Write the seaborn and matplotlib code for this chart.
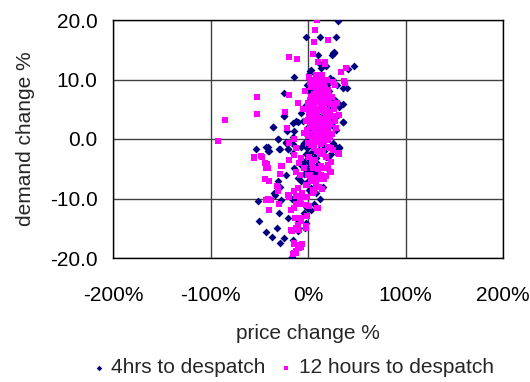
import matplotlib
matplotlib.use("Agg")
import matplotlib.pyplot as plt
from matplotlib.ticker import FuncFormatter
import seaborn as sns
import pandas as pd

# price change (%) and demand change (%) pairs, 4 hours before despatch
price_4h = [31, -2, 12.6, 28.6, 10.5, 24.5, 26.2, 25.2, 26.8,
            3.1, -14, 22.8, 47.2, 41.5, 12.6, 18.4, 2.3, 0.7, 22.4, 16.6, 18.4,
            -24.2, -1, 35.4, 40.5, 23.5, 31.9, 35.7, 20.1, 21.7,
            -36, -24.8, -15.6, -10.5, -7.1, 32, 35.4, 30.3, 28.6,
            -24.2, -36, -12.2, -14, -30.9, -22.4, -53, -41.1, -39.5, -29.3, -20.7, -15,
            35.4, 31.9, 31.9,
            -42.9, -41.1, -28.6, -22.4, -20.1, -15.6, -15.6, -21.4, -30.3,
            -22.4, -30.3, -28.6, -34.4, -33.7, -51.3, -27.6, -29.3, -20.1, -50.7,
            -42.9, -36.7, -31.9, -24.2, -28.6, -15.6, -16.3, -10.5, -2.8, -2,
            -10.5, -3.8, -1, -12.2, -16.3, 1.3, 3.1, -1, -7.1, -10.5, -14,
            -3.8, -0.3, -7.1, -3.8, -0.3, 3.1, -1, -7.1, -3.8, -0.3, -1, 3.1, 6.4,
            8.2, 9.9, 28.6, 31.9, 25.2, 4.8,
            2, 5, 8, 10, 12, 15, 18, 20, 25, 3, 0, 6, 10, 13, 15, 20, 8, 1, 4, 7,
            14, 22, -3, -5, 16, 28, 12, 30, 24, 18, 5, 0, -5, 3, 7, -2, 11,
            4, 9, 14, 19, 23, 27, 2, 6, 11, 16, 21, 1, 9, 12, 6, 3, -1, 17, 26, 13]
demand_4h = [19.9, 17.2, 17.2, 17.2, 14.1, 14.1, 14.5, 14.4, 14.7,
             11.6, 10.4, 10.1, 12.2, 11.8, 12.6, 12.3, 11.5, 10.9, 10.2, 9.3, 8.8,
             7.8, 9.1, 8.5, 8.5, 7.1, 5.8, 5.9, 6.9, 9.4,
             2.1, 3.8, 2.7, 2.9, 4.3, 5.7, 2.9, 4.0, 1.5,
             3.8, 2.0, 3.1, 1.4, 0.0, -0.5, -1.7, -1.4, -2.0, -1.7, -1.7, -0.8,
             2.8, 5.3, -1.4,
             -1.3, -2.0, -1.7, -0.7, -1.7, -2.4, 0.4, 1.3, 0.0,
             -6.0, -7.0, -8.0, -9.0, -9.4, -10.4, -10.3, -12.5, -13.2, -13.8,
             -15.7, -16.4, -15.0, -16.7, -17.5, -17.0, -19.8, -15.5, -15.0, -14.2,
             -13.9, -12.5, -11.6, -10.2, -10.0, -8.6, -8.3, -7.4, -7.1, -6.6, -4.9,
             -5.8, -5.5, -4.4, -3.8, -3.2, -2.4, -1.5, -1.3, -0.7, -0.4, 0.7, 1.3, 1.5,
             -3.2, -2.1, -1.3, -1.5, -0.7, -0.2,
             8, 6.5, 4.5, 2.5, 0.5, -1, 3.5, 5.2, 3.2, 4, 2, -2, -4.2, -6.2, -8.1, -5, -9, 6, 9, 8,
             7, 8, 5.5, 3, 1.8, 6.5, 10, 9, -2.5, -3, -5.5, -7, -9.5, -12, -3, -2.5, -1.8,
             1, 3, 4, 1, 6, 2, -1, 3, 5, -2, -3, -4, -6, -10, -11, -8.5, -5, 7.5, 10, 12]

# price change (%) and demand change (%) pairs, 12 hours before despatch
price_12h = [8.9, 6.8, 5.8, 20.1, -19.1, -11.2, 5.4, 9.9, 17.3,
             17.7, 8.2, 14.3, 38.8, 33.7, 27.9, 37.8, 37, -19.1, -52, -52, -84.7,
             -23.5, -10.2, 11.2, 5.1,
             -23.2, -21.4, -92.1, -48, -14, 23.5,
             -55.4, -47.2, -42.1, -42.9, -26.5, -44.6, -39.5, -31.6, -30.9, -41.1,
             23.5, 20.1, 23.5, 14.3, 14.3, 4.8, -12.2, -19.1, 31.9,
             -55.8, -44.6, -41.1, -27.6, -19.1, -28.6, 9.9, 1.3, -17.3, -39.5,
             -42.9, -37.8, -30.9, -20.1, -14, -6.1, -7.9, -12.6, -7.1, -12.2,
             -17.3, -8.9, -2, -14, -10.5, -7.1, -12.2, -8.9, -14,
             -39.5, -29.9, -12.2, -7.1, 1.3, 9.2, -1.3, -13, -7.1, -10.5, -2,
             -16.3, -14, -6.1, -10.5, -12.2, -15.6,
             -3.8, -0.3, 3.1, -2, 8.2, 13.3, 18.4, 20.1, 22.8, 23.5, 15, 4.8,
             -7.1, -8.9, -12.2, -7.9, -10.5, -7.1, -1, 6.4, -2, -14,
             -0.3, 8.2, 13.3, 20.1, 25.2, 30.3, -19.1, -14, -12.2,
             2, 5, 8, 11, 14, 17, 20, 3, 6, 9, 12, 15, 18, 22, 25, 0, 4, 7, 10,
             13, 16, 19, 23, 27, 1, 5, 8, 11, 14, 17, 20, 24, 28, -2, 2, 6, 9,
             12, 15, 18, 21, 25, -4, 0, 4, 7, 10, 13, 16, -5, -3, 1, 26, 30, 32, 29,
             3, 7, 10, 13, 16, 19, 2, 5, 8, 11, 14, 17, 21, 24, 1, 4, 6, 9, 12, 15,
             18, 21, 26, 0, 3, 7, 10, 13, 16, 19, 22, -1, 2, 5, 8, 11, 14, 17, 20, 23,
             3, 6, 9, 12, 15, 18, 1, 4, 7, 10, 13, 16, 8, 11, 2, 5]
demand_12h = [20.0, 18.3, 16.3, 16.7, 13.7, 13.4, 14.3, 12.9, 12.9,
              12.6, 10.7, 10.7, 12.0, 11.3, 9.0, 9.4, 9.7, 7.4, 7.0, 4.2, 3.2,
              4.5, 6.0, 10.2, 9.9,
              4.6, 1.9, -0.4, -2.8, 0.0, -1.5,
              -3.1, -3.0, -4.2, -4.9, -4.5, -6.8, -7.0, -7.9, -8.7, -10.1,
              -3.8, -4.8, -5.6, -6.8, -8.4, -9.0, -9.6, -9.8, -2.6,
              -3.2, -4.1, -4.8, -4.5, -3.5, -5.8, -11.6, -11.2, -11.9, -11.9,
              -10.2, -10.2, -8.2, -9.4, -8.8, -9.1, -10.6, -13.3, -13.3, -14.9,
              -15.3, -15.3, -15.0, -17.5, -17.8, -18.1, -18.9, -18.4, -19.2,
              -12.0, -10.9, -10.9, -10.9, -11.3, -11.6, -13.0, -13.3, -13.7, -14.5, -14.7,
              -15.4, -17.7, -17.7, -18.3, -19.1, -19.4,
              -4.9, -6.0, -7.1, -7.7, -6.6, -6.0, -6.3, -4.4, -5.5, -3.8, -4.9, -4.9,
              -3.2, -4.1, -5.5, -6.0, -8.3, -9.7, -9.7, -8.8, -11.1, -11.6,
              -0.7, 0.1, -0.4, -1.3, -1.8, -2.4, -0.7, -2.7, -1.5,
              9.5, 9, 8.5, 8, 9, 8.5, 7.5, 7, 7.5, 6.5, 7, 6.5, 6, 6.5, 7, 6, 5.5, 5, 5,
              5.5, 4.5, 4.8, 4.5, 5, 4, 3.5, 3, 3.5, 3, 2.5, 3, 2.5, 3, 3, 2, 1.5, 1,
              1.5, 1, 0.5, 1.2, 0.8, 1, 0.5, 0, -0.5, -0.2, -0.8, -0.5, 5, 8, 10.5, 9.5, 6, 4, 1.8,
              8.8, 9.8, 9.2, 10.2, 9.6, 9.9, 6.5, 7.2, 7.8, 6.2, 7.8, 7.2, 8.2, 5.8, 5, 4.5, 6, 4.2, 4.8, 5.6,
              3.8, 4, 3.8, 3.2, 2.8, 2.4, 2.2, 2, 3.4, 1.8, 2.2, 1.5, 0.8, 0.4, 1.8, 0.2, 0, 1.4, -0.2, 0.3,
              -1, -1.5, -2, -2.5, -2, -3, -3, -4, -3.5, -5, -4.5, -6.8, -7.5, -8, -6, -8.5]

series_names = ["4hrs to despatch", "12 hours to despatch"]
x_ticks = [-200, -100, 0, 100, 200]
y_ticks = [-20, -10, 0, 10, 20]

df = pd.concat([
    pd.DataFrame({"price": price_4h, "demand": demand_4h, "series": series_names[0]}),
    pd.DataFrame({"price": price_12h, "demand": demand_12h, "series": series_names[1]}),
], ignore_index=True)

sns.set_style("white")
plt.rcParams["font.family"] = ["Liberation Sans", "DejaVu Sans"]

fig = plt.figure(figsize=(5.3, 3.82), dpi=100)
ax = fig.add_axes([113 / 530, 1 - 258 / 382, 390 / 530, 238 / 382])

colors = {series_names[0]: "#000080", series_names[1]: "#FF00FF"}
markers = {series_names[0]: "D", series_names[1]: "s"}
sizes = {series_names[0]: 16, series_names[1]: 16}

for name in series_names:
    sns.scatterplot(data=df[df["series"] == name], x="price", y="demand",
                    color=colors[name], marker=markers[name], s=sizes[name],
                    linewidth=0, ax=ax, label=name, zorder=3)

ax.set_xlim(-200, 200)
ax.set_ylim(-20, 20)
ax.set_xticks(x_ticks)
ax.set_yticks(y_ticks)
ax.xaxis.set_major_formatter(FuncFormatter(lambda v, p: f"{v:.0f}%"))
ax.yaxis.set_major_formatter(FuncFormatter(lambda v, p: f"{v:.1f}"))
ax.grid(True, color="#404040", linewidth=1.0, zorder=1)
ax.set_axisbelow(True)
for sp in ax.spines.values():
    sp.set_color("black")
    sp.set_linewidth(1.0)
ax.tick_params(axis="both", length=0, labelsize=15, colors="black")
ax.tick_params(axis="x", pad=20)
ax.tick_params(axis="y", pad=11)

ax.set_xlabel("price change %", fontsize=15, labelpad=14)
ax.set_ylabel("demand change %", fontsize=15, labelpad=11)

leg = ax.legend(loc="center", bbox_to_anchor=(0.459, -0.462), ncol=2,
                frameon=False, fontsize=15, handletextpad=0.2, columnspacing=0.6,
                handlelength=0.8, markerscale=0.7, borderaxespad=0,
                borderpad=0)

fig.savefig("out.png", dpi=100, facecolor="white")
